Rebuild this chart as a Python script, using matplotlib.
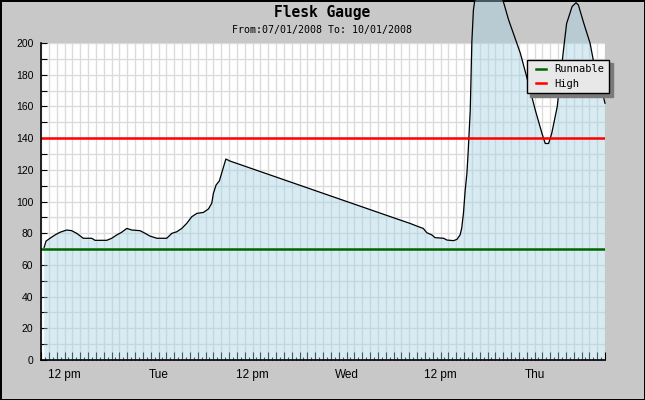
import matplotlib
matplotlib.use('Agg')
import matplotlib.pyplot as plt
from matplotlib.ticker import MultipleLocator, FuncFormatter
from matplotlib.legend_handler import HandlerLine2D

# gauge level, x is hours since Mon 09:00
hours = [0.4, 0.64, 1.15, 1.79, 2.43, 3.28, 3.92, 4.56, 5.4, 6.47,
         6.9, 8.39, 9.03, 9.67, 10.3, 10.95, 11.6, 12.64, 13.3, 13.9,
         14.8, 16.05, 16.7, 17.33, 17.97, 18.6, 19.25, 19.9, 20.73, 21.38,
         21.8, 22.0, 22.35, 22.77, 23.6, 24.14, 45.85, 47.1, 47.98, 48.8,
         49.26, 49.9, 50.3, 51.4, 51.8, 52.66, 53.1, 53.5, 53.7, 53.93,
         54.15, 54.37, 54.5, 54.8, 55.0, 55.2, 55.9, 57.0, 58.2, 58.97,
         59.7, 60.75, 61.2, 62.0, 63.1, 63.95, 64.37, 64.8, 65.2, 65.9,
         66.7, 67.1, 67.8, 68.3, 68.6, 69.3, 70.1, 70.5, 71.4, 72.0]
level = [71, 75, 76.8, 78.9, 80.6, 82, 81.6, 79.9, 76.8, 76.8,
         75.5, 75.5, 76.8, 78.9, 80.6, 83, 82, 81.6, 79.9, 78.2,
         76.8, 76.8, 79.9, 80.9, 83, 86.2, 90.4, 92.5, 93.1, 95.3,
         98.9, 105, 110.4, 113, 126.8, 125.5, 88.3, 86.2, 84.5, 83,
         80.3, 78.9, 77.2, 76.8, 75.7, 75.3, 76.1, 78.9, 83, 92.5,
         107, 117.7, 128.3, 157.7, 200.4, 220.8, 245, 255, 240, 227,
         214.5, 199.8, 193.4, 178.7, 157.7, 143, 136.6, 136.6, 143, 159.8,
         195.6, 212.3, 223, 225.4, 224, 212.3, 199.8, 189.3, 174.5, 162]

runnable = 70
high = 140

tick_hours = [3, 15, 27, 39, 51, 63]
tick_names = ['12 pm', 'Tue', '12 pm', 'Wed', '12 pm', 'Thu']
tick_lookup = dict(zip(tick_hours, tick_names))

fig = plt.figure(figsize=(6.45, 4.0), dpi=100)
fig.patch.set_facecolor('#c8c8c8')
fig.patch.set_edgecolor('black')
fig.patch.set_linewidth(2)

ax = fig.add_axes([41/645, 40/400, 564/645, 317/400])
ax.set_facecolor('white')

# grid behind the translucent fill
ax.set_axisbelow(True)
ax.xaxis.grid(True, which='major', color='#dcdcdc', lw=1)
ax.yaxis.grid(True, which='both', color='#dcdcdc', lw=1)

fill = ax.fill_between(hours, level, 0, facecolor=(162/255, 209/255, 226/255),
                       alpha=0.42, lw=0, zorder=2)
fill.set_clip_on(False)
ax.plot(hours, level, color='black', lw=0.9, zorder=3, clip_on=False)

ax.axhline(runnable, color='#006600', lw=1.8, zorder=4, label='Runnable')
ax.axhline(high, color='#ff0000', lw=1.8, zorder=4, label='High')

ax.set_xlim(0, 72)
ax.set_ylim(0, 200)

ax.xaxis.set_major_locator(MultipleLocator(1))
ax.xaxis.set_minor_locator(MultipleLocator(0.5))
ax.xaxis.set_major_formatter(FuncFormatter(lambda v, p: tick_lookup.get(int(round(v)), '')))
ax.yaxis.set_major_locator(MultipleLocator(20))
ax.yaxis.set_minor_locator(MultipleLocator(10))

ax.tick_params(axis='x', which='major', direction='in', length=5.5, width=0.8,
               pad=6.5, labelsize=8.5, colors='black')
ax.tick_params(axis='x', which='minor', direction='in', length=2.5, width=0.8)
ax.tick_params(axis='y', which='both', direction='in', length=4, width=0.8,
               pad=5.5, labelsize=7.5)
for lab in ax.get_xticklabels() + ax.get_yticklabels():
    lab.set_fontfamily('Liberation Sans')

for s in ['top', 'right']:
    ax.spines[s].set_visible(False)
for s in ['left', 'bottom']:
    ax.spines[s].set_color('black')
    ax.spines[s].set_linewidth(1.2)
    ax.spines[s].set_zorder(5)

fig.text(0.5, 1 - 12/400, 'Flesk Gauge', ha='center', va='center',
         family='DejaVu Sans Mono', weight='bold', size=10.5)
fig.text(0.5, 1 - 30.5/400, 'From:07/01/2008 To: 10/01/2008', ha='center', va='center',
         family='DejaVu Sans Mono', size=7.2)

leg = ax.legend(loc='upper left', bbox_to_anchor=(527/645, 1 - 60/400),
                bbox_transform=fig.transFigure, borderaxespad=0,
                prop={'family': 'DejaVu Sans Mono', 'size': 7.5},
                fancybox=False, framealpha=1, facecolor='#e8e8e8', edgecolor='black',
                borderpad=0.42, labelspacing=0.44, handlelength=1.4, handletextpad=0.84,
                handler_map={plt.Line2D: HandlerLine2D(xpad=0.45)},
                shadow={'ox': 2.5, 'oy': -2.5, 'facecolor': '#7a7a7a',
                        'edgecolor': '#7a7a7a', 'alpha': 1})
leg.get_frame().set_linewidth(1)
leg.set_zorder(10)

plt.savefig('out.png', dpi=100, facecolor=fig.get_facecolor(), edgecolor='black')
